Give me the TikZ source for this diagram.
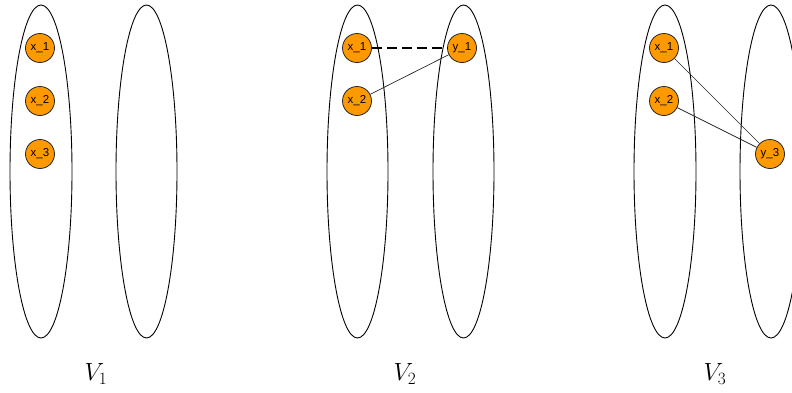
\documentclass[tikz,border=0pt]{standalone}
\usepackage{fontspec}
\newfontfamily\nodefont{Liberation Sans}
\definecolor{vorange}{HTML}{FF9900}
\begin{document}
\begin{tikzpicture}[x=1pt,y=-1pt,
  vtx/.style={circle,draw=black!85,fill=vorange,line width=0.8pt,minimum size=29pt,inner sep=0pt,font=\nodefont\fontsize{11.5}{13}\selectfont},
  part/.style={draw=black,line width=0.9pt},
  edge/.style={draw=black!85,line width=0.7pt},
  match/.style={draw=black,line width=2pt,dash pattern=on 10pt off 5pt},
  lab/.style={font=\fontsize{23}{26}\selectfont}]
\useasboundingbox (0,0) rectangle (792,392);
% panel 1
\draw[part] (41,171.5) ellipse [x radius=31, y radius=166.5];
\draw[part] (146.5,171.5) ellipse [x radius=30.5, y radius=166.5];
\node[vtx] (a1) at (40,48) {x\_1};
\node[vtx] (a2) at (40,101) {x\_2};
\node[vtx] (a3) at (40,154) {x\_3};
\node[lab] (v1) at (96,374) {$V_1$};
% panel 2
\draw[part] (357.5,171.5) ellipse [x radius=30.5, y radius=166.5];
\draw[part] (463.5,171.5) ellipse [x radius=30.5, y radius=166.5];
\node[vtx] (b1) at (357,48) {x\_1};
\node[vtx] (b2) at (357,101) {x\_2};
\node[vtx] (by1) at (462,48) {y\_1};
\draw[match] (b1) -- (by1);
\draw[edge] (b2) -- (by1);
\node[lab] (v2) at (405,374) {$V_2$};
% panel 3
\draw[part] (665,171.5) ellipse [x radius=31, y radius=166.5];
\draw[part] (771,171.5) ellipse [x radius=31, y radius=166.5];
\node[vtx] (c1) at (664,48) {x\_1};
\node[vtx] (c2) at (664,101) {x\_2};
\node[vtx] (cy3) at (770,154) {y\_3};
\draw[edge] (c1) -- (cy3);
\draw[edge] (c2) -- (cy3);
\node[lab] (v3) at (715,374) {$V_3$};
\end{tikzpicture}
\end{document}
